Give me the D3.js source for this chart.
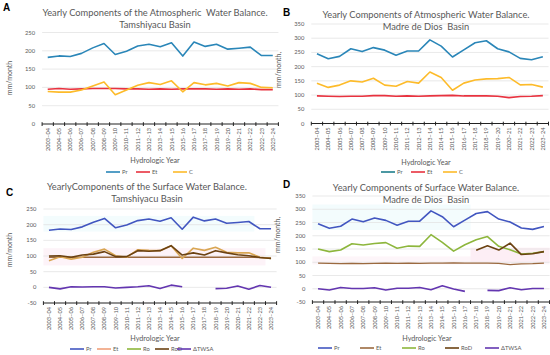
<!DOCTYPE html>
<html><head><meta charset="utf-8">
<script src="https://cdn.jsdelivr.net/npm/d3@7"></script>
<style>
html,body{margin:0;padding:0;background:#fff;}
svg{display:block;font-family:Lato,"Open Sans",sans-serif;}
</style></head>
<body><svg id="chart" width="550" height="355"></svg>
<script>
// ---------- DATA ----------
const years = ["2003–04","2004–05","2005–06","2006–07","2007–08","2008–09","2009–10","2010–11","2011–12","2012–13","2013–14","2014–15","2015–16","2016–17","2017–18","2018–19","2019–20","2020–21","2021–22","2022–23","2023–24"];

// A: Atmospheric water balance, Tamshiyacu
const tamPr = [182,186,184.5,193,208,220,190,199,213,218,211,222,185.5,224,212,218,204.5,207,210,187,187];
const tamEt = [95,97,95,96,97,97,97,96,96,95,96,95,96,96,96,95,96,95,96,94,94];
const tamC  = [89,87,87,93,104,115,80,93,106,113,108,118,88,113,107,111,104,113,111,100,99];

// B: Atmospheric water balance, Madre de Dios
const mddPr = [245,228,236,263,253,267,258,240,255,255,294,272,234,259,284,291,263,252,229,224,235];
const mddEt = [97,96,95,96,96,98,98,96,97,96,97,98,99,97,97,97,96,91,95,96,98];
const mddC  = [142,127,135,150,146,159,135,131,148,142,181,162,117,142,153,157,158,162,136,137,128];

// C: Surface water balance, Tamshiyacu
const tamSwPr = [182,186,184.5,193,208,220,190,199,213,218,211,222,185.5,224,212,218,204.5,207,210,187,187];
const tamSwEt = [96,96,96,96,96,96,96,96,96,96,96,96,96,96,96,96,96,96,96,95,94];
const tamRo   = [85,98,90,96,112,122,101,96,120,118,117,133,92,125,118,128,112,110,110,96,92];
const tamRoD  = [100,101,96,103,106,114,98,98,117,115,117,133,103,110,103,117,110,104,101,95,92];
const tamTWSA = [0,-5,2,1,2,2,-2,0,2,5,-4,7,2,null,null,-4,-3,4,-6,6,0];

// D: Surface water balance, Madre de Dios
const mddSwPr = [245,228,236,263,253,267,258,240,255,255,294,272,234,259,284,291,263,252,229,224,235];
const mddSwEt = [97,96,95,96,95,96,97,96,97,96,97,97,98,97,97,97,96,91,94,95,97];
const mddRo   = [150,140,146,170,165,171,174,153,161,160,204,175,142,166,185,197,160,147,131,134,140];
const mddRoD  = [null,null,null,null,null,null,null,null,null,null,null,null,null,null,145,162,146,172,129,132,140];
const mddTWSA = [0,-5,5,1,1,4,-5,2,2,5,-4,11,-1,-10,null,-6,-7,4,-4,1,1];

const ticksA = [0,50,100,150,200,250];
const ticksB = [0,50,100,150,200,250,300,350];
const ticksC = [-50,0,50,100,150,200,250];
const ticksD = [-50,0,50,100,150,200,250,300,350];

// ---------- DRAW ----------
const svg = d3.select("#chart");
const grey = "#595959";

function panel(cfg){
  const g = svg.append("g");
  const x = d3.scaleBand().domain(years).range(cfg.xr).paddingInner(0).paddingOuter(0);
  const y = d3.scaleLinear().domain(cfg.yd).range(cfg.yr);
  const cx = d => x(d) + x.bandwidth()/2;

  // background bands
  (cfg.bands||[]).forEach(b=>{
    g.append("rect").attr("x", x(years[b.i0])).attr("width", x(years[b.i1]) + x.bandwidth() - x(years[b.i0]))
      .attr("y", y(b.v1)).attr("height", y(b.v0)-y(b.v1)).attr("fill", b.c);
  });

  // grid
  g.selectAll(".grid").data(cfg.ticks.filter(t=>t!==cfg.yd[0])).join("line")
    .attr("x1", cfg.xr[0]).attr("x2", cfg.xr[1])
    .attr("y1", d=>y(d)).attr("y2", d=>y(d))
    .attr("stroke", "#e3e3e3").attr("stroke-width", 0.8);

  // y labels
  g.selectAll(".yl").data(cfg.ticks).join("text")
    .attr("x", cfg.xr[0]-7).attr("y", d=>y(d)).attr("dy","0.35em")
    .attr("text-anchor","end").attr("font-size",5.8).attr("fill",grey).text(d=>d);

  // x axis
  const ay = y(cfg.yd[0]);
  g.append("line").attr("x1", cfg.xr[0]).attr("x2", cfg.xr[1]).attr("y1", ay).attr("y2", ay)
    .attr("stroke","#222").attr("stroke-width",1.2);
  const bounds = years.map(d=>x(d)).concat([cfg.xr[1]]);
  g.selectAll(".tk").data(bounds).join("line")
    .attr("x1", d=>d).attr("x2", d=>d).attr("y1", ay-1.8).attr("y2", ay+2)
    .attr("stroke","#222").attr("stroke-width",1);
  g.selectAll(".xl").data(years).join("text")
    .attr("transform", d=>`translate(${cx(d)+2},${ay+4}) rotate(-90)`)
    .attr("text-anchor","end").attr("font-size",5.7).attr("fill",grey).text(d=>d);

  // series
  cfg.series.forEach(s=>{
    const line = d3.line().defined(v=>v!=null).x((v,i)=>cx(years[i])).y(v=>y(v));
    g.append("path").attr("d", line(s.values)).attr("fill","none")
      .attr("stroke", s.color).attr("stroke-width", s.w||1.6).attr("stroke-linejoin","round");
  });

  // titles
  cfg.title.forEach((t,i)=>{
    g.append("text").attr("x", cfg.tx).attr("y", cfg.ty + i*11.5).attr("text-anchor","middle")
      .attr("font-size",9.3).attr("fill",grey).attr("xml:space","preserve").text(t);
  });
  g.append("text").attr("x", cfg.letter[0]).attr("y", cfg.letter[1])
    .attr("font-family","'Liberation Sans',Arial,sans-serif").attr("font-weight","bold")
    .attr("font-size",10).attr("fill","#000").text(cfg.letterText);

  // axis titles
  g.append("text").attr("transform", `translate(${cfg.yt[0]},${cfg.yt[1]}) rotate(-90)`)
    .attr("text-anchor","middle").attr("font-size",7).attr("fill",grey).text(cfg.yTitle);
  g.append("text").attr("x", cfg.xt[0]).attr("y", cfg.xt[1]).attr("text-anchor","middle")
    .attr("font-size",7.2).attr("fill",grey).text("Hydrologic Year");

  // legend
  cfg.legend.forEach(l=>{
    g.append("line").attr("x1", l.x).attr("x2", l.x+14).attr("y1", cfg.ly).attr("y2", cfg.ly)
      .attr("stroke", l.color).attr("stroke-width",1.6);
    g.append("text").attr("x", l.x+16).attr("y", cfg.ly).attr("dy","0.35em")
      .attr("font-size",5.8).attr("fill",grey).text(l.name);
  });
}

const cPr="#2a86b8", cEt="#e8323f", cC="#fdbb2a";
const sPr="#4256c0", sEt="#9b6a3f", sRo="#8db63c", sRoD="#6b4212", sTW="#6336b0";

panel({
  xr:[42.1,278.4], yd:[0,250], yr:[124,32.5], ticks:ticksA, yTitle:"mm/month",
  series:[{values:tamPr,color:cPr},{values:tamEt,color:cEt},{values:tamC,color:cC}],
  title:["Yearly Components of the Atmospheric  Water Balance.","Tamshiyacu Basin"], tx:155, ty:16,
  letter:[3,11], letterText:"A", yt:[12,78], xt:[155,163], ly:172,
  legend:[{x:106,name:"Pr",color:cPr},{x:136,name:"Et",color:cEt},{x:173,name:"C",color:cC}]
});
panel({
  xr:[311.3,548.5], yd:[0,350], yr:[123.5,24], ticks:ticksB, yTitle:"mm/month,",
  series:[{values:mddPr,color:cPr},{values:mddEt,color:cEt},{values:mddC,color:cC}],
  title:["Yearly Components of Atmospheric Water Balance.","Madre de Dios  Basin"], tx:426, ty:18,
  letter:[283,16], letterText:"B", yt:[281,70], xt:[426,165], ly:172,
  legend:[{x:381,name:"Pr",color:"#1f7f8c"},{x:411,name:"Et",color:cEt},{x:443,name:"C",color:cC}]
});
panel({
  xr:[43.4,276.6], yd:[-50,250], yr:[303,209], ticks:ticksC, yTitle:"mm/month",
  bands:[{i0:0,i1:18,v0:178,v1:228,c:"#f3fcfd"},{i0:0,i1:19,v0:70,v1:125,c:"#fdf3f8"}],
  series:[{values:tamSwPr,color:sPr},{values:tamSwEt,color:sEt,w:1.3},{values:tamRo,color:"#d9a653"},{values:tamRoD,color:sRoD},{values:tamTWSA,color:sTW}],
  title:["YearlyComponents of the Surface Water Balance.","Tamshiyacu Basin"], tx:147, ty:190,
  letter:[6,196], letterText:"C", yt:[12,250], xt:[155,341], ly:349,
  legend:[{x:70,name:"Pr",color:sPr},{x:97,name:"Et",color:"#f0a07a"},{x:127,name:"Ro",color:sRo},{x:155,name:"RoD",color:sRoD},{x:177,name:"ΔTWSA",color:sTW}]
});
panel({
  xr:[312.4,549.6], yd:[-50,350], yr:[302,196], ticks:ticksD, yTitle:"mm/month,",
  bands:[{i0:0,i1:13,v0:222,v1:318,c:"#f3fcfd"},{i0:0,i1:20,v0:92,v1:122,c:"#fdf5f9"},{i0:14,i1:20,v0:100,v1:155,c:"#fdeef5"}],
  series:[{values:mddSwPr,color:sPr},{values:mddSwEt,color:sEt,w:1.3},{values:mddRo,color:sRo},{values:mddRoD,color:sRoD},{values:mddTWSA,color:sTW}],
  title:["Yearly Components of Surface Water Balance.","Madre de Dios  Basin"], tx:426, ty:191,
  letter:[283,188], letterText:"D", yt:[280,235], xt:[427,341], ly:348,
  legend:[{x:318,name:"Pr",color:sPr},{x:360,name:"Et",color:sEt},{x:402,name:"Ro",color:sRo},{x:445,name:"RoD",color:sRoD},{x:485,name:"ΔTWSA",color:sTW}]
});
</script></body></html>
